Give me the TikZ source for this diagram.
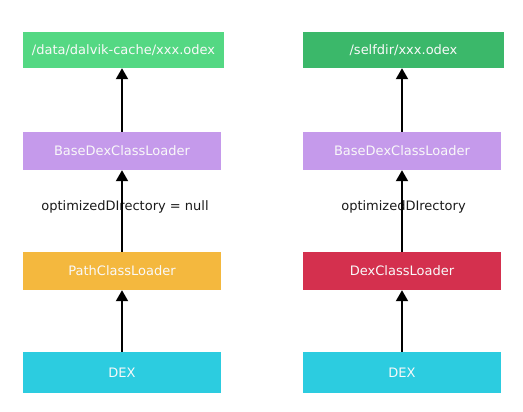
\documentclass[tikz,border=0pt]{standalone}
\usepackage{fontspec}
\setmainfont{DejaVu Sans}
\usetikzlibrary{arrows.meta}
\definecolor{gA}{HTML}{54D883}
\definecolor{gB}{HTML}{3BB86A}
\definecolor{pu}{HTML}{C59AEB}
\definecolor{og}{HTML}{F4B83E}
\definecolor{rd}{HTML}{D4304E}
\definecolor{cy}{HTML}{2CCCE0}
\definecolor{lbl}{HTML}{1A1A1A}
\tikzset{
  box/.style={draw=none, inner sep=0pt, text=white!95!gray, font=\fontsize{13}{15}\selectfont},
  conn/.style={line width=2pt, -{Triangle[width=12pt,length=11pt]}},
  lab/.style={text=lbl, font=\fontsize{13}{15}\selectfont, inner sep=0pt}
}
\begin{document}
\begin{tikzpicture}[x=1pt,y=-1pt]
\useasboundingbox (0,0) rectangle (523,412);
% left column
\node[box, fill=gA, minimum width=201pt, minimum height=36pt] (odl) at (123.5,50) {/data/dalvik-cache/xxx.odex};
\node[box, fill=pu, minimum width=198pt, minimum height=38pt] (bdl) at (122,151) {BaseDexClassLoader};
\node[box, fill=og, minimum width=198pt, minimum height=38pt] (pcl) at (122,271) {PathClassLoader};
\node[box, fill=cy, minimum width=198pt, minimum height=41pt] (dxl) at (122,372.5) {DEX};
% right column
\node[box, fill=gB, minimum width=201pt, minimum height=36pt] (odr) at (403.5,50) {/selfdir/xxx.odex};
\node[box, fill=pu, minimum width=198pt, minimum height=38pt] (bdr) at (402,151) {BaseDexClassLoader};
\node[box, fill=rd, minimum width=198pt, minimum height=38pt] (dcl) at (402,271) {DexClassLoader};
\node[box, fill=cy, minimum width=198pt, minimum height=41pt] (dxr) at (402,372.5) {DEX};
% labels
\node[lab] (ll) at (125,207) {optimizedDIrectory = null};
\node[lab] (lr) at (403.5,207) {optimizedDIrectory};
% connectors
\draw[conn] (dxl.north) -- (pcl.south);
\draw[conn] (pcl.north) -- (bdl.south);
\draw[conn] (bdl.north) -- (bdl.north |- odl.south);
\draw[conn] (dxr.north) -- (dcl.south);
\draw[conn] (dcl.north) -- (bdr.south);
\draw[conn] (bdr.north) -- (bdr.north |- odr.south);
\end{tikzpicture}
\end{document}
